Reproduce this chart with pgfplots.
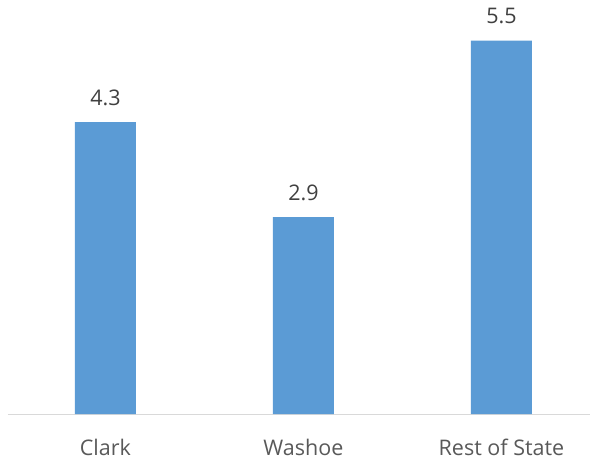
\documentclass[border=0pt]{standalone}
\usepackage{pgfplots}
\pgfplotsset{compat=1.18}
\usepackage{fontspec}
\setmainfont{Open Sans}
\definecolor{barblue}{HTML}{5B9BD5}
\definecolor{axgray}{HTML}{D9D9D9}
\definecolor{labgray}{HTML}{595959}
\definecolor{valgray}{HTML}{404040}
\begin{document}
\begin{tikzpicture}[x=1pt,y=1pt]
\begin{axis}[
  scale only axis,
  width=582pt, height=414pt,
  xmin=-0.492, xmax=2.447,
  ymin=0, ymax=6.1,
  ybar, bar width=61pt,
  bar shift=0pt,
  axis y line=none,
  axis x line*=bottom,
  x axis line style={axgray, line width=1pt, -},
  xtick=data,
  xticklabels={Clark,Washoe,Rest of State},
  xtick style={draw=none},
  tick label style={font=\fontsize{21.5}{25}\selectfont, text=labgray},
  xticklabel style={yshift=-17pt},
  nodes near coords,
  nodes near coords style={font=\fontsize{21.5}{25}\selectfont, text=valgray, yshift=13pt},
  /pgf/number format/.cd, fixed, fixed zerofill, precision=1, assume math mode=true,
]
\addplot[fill=barblue, draw=none] coordinates {(0,4.3) (1,2.9) (2,5.5)};
\end{axis}
\path[use as bounding box] (-8,-47) rectangle (589,414);
\end{tikzpicture}
\end{document}
